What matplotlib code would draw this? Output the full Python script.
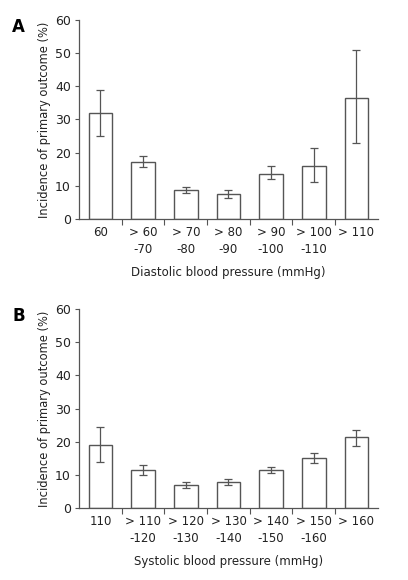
import matplotlib
matplotlib.use("Agg")
import matplotlib.pyplot as plt
import numpy as np

dia_labels = ["60", "> 60\n-70", "> 70\n-80", "> 80\n-90", "> 90\n-100", "> 100\n-110", "> 110"]
dia_values = [31.8, 17.2, 8.8, 7.5, 13.5, 16.0, 36.5]
dia_low = [25.0, 15.8, 7.9, 6.5, 12.0, 11.2, 23.0]
dia_high = [38.8, 19.0, 9.6, 8.8, 16.0, 21.3, 51.0]

sys_labels = ["110", "> 110\n-120", "> 120\n-130", "> 130\n-140", "> 140\n-150", "> 150\n-160", "> 160"]
sys_values = [19.0, 11.5, 7.1, 8.0, 11.6, 15.2, 21.3]
sys_low = [14.0, 9.9, 6.2, 7.1, 10.6, 13.5, 18.8]
sys_high = [24.5, 13.1, 7.9, 8.9, 12.3, 16.6, 23.6]

plt.rcParams['font.family'] = ['DejaVu Sans']
fig = plt.figure(figsize=(4.08, 5.8), dpi=100)

def panel(rect, labels, vals, lo, hi, xlabel, letter):
    ax = fig.add_axes(rect)
    x = np.arange(len(vals)) + 0.5
    vals = np.array(vals); lo = np.array(lo); hi = np.array(hi)
    ax.bar(x, vals, width=0.56, facecolor='white', edgecolor='#555555', linewidth=1.0, zorder=2)
    ax.errorbar(x, vals, yerr=[vals - lo, hi - vals], fmt='none', ecolor='#555555',
                elinewidth=0.9, capsize=3, capthick=0.9, zorder=3)
    ax.set_xlim(0, len(vals))
    ax.set_ylim(0, 60)
    ax.set_yticks([0, 10, 20, 30, 40, 50, 60])
    ax.set_xticks(x)
    ax.set_xticklabels(labels, fontsize=8.5, linespacing=1.42, color='#222222')
    ax.set_xticks(np.arange(1, len(vals)), minor=True)
    ax.tick_params(axis='x', which='major', length=0, pad=5)
    ax.tick_params(axis='x', which='minor', length=4, width=0.8, color='#555555', direction='out')
    ax.tick_params(axis='y', length=3, width=0.8, color='#555555', labelsize=9, labelcolor='#222222', pad=3)
    for s in ['top', 'right']:
        ax.spines[s].set_visible(False)
    for s in ['left', 'bottom']:
        ax.spines[s].set_color('#555555')
        ax.spines[s].set_linewidth(0.9)
    ax.set_xlabel(xlabel, fontsize=8.5, color='#222222', labelpad=7)
    ax.set_ylabel("Incidence of primary outcome (%)", fontsize=8.3, color='#222222', labelpad=3)
    fig.text(0.03, rect[1] + rect[3] - 0.012, letter, fontsize=12, fontweight='bold', va='center', ha='left')
    return ax

panel([0.194, 0.622, 0.732, 0.344], dia_labels, dia_values, dia_low, dia_high,
      "Diastolic blood pressure (mmHg)", "A")
panel([0.194, 0.124, 0.732, 0.343], sys_labels, sys_values, sys_low, sys_high,
      "Systolic blood pressure (mmHg)", "B")

fig.savefig("out.png", dpi=100, facecolor='white')
